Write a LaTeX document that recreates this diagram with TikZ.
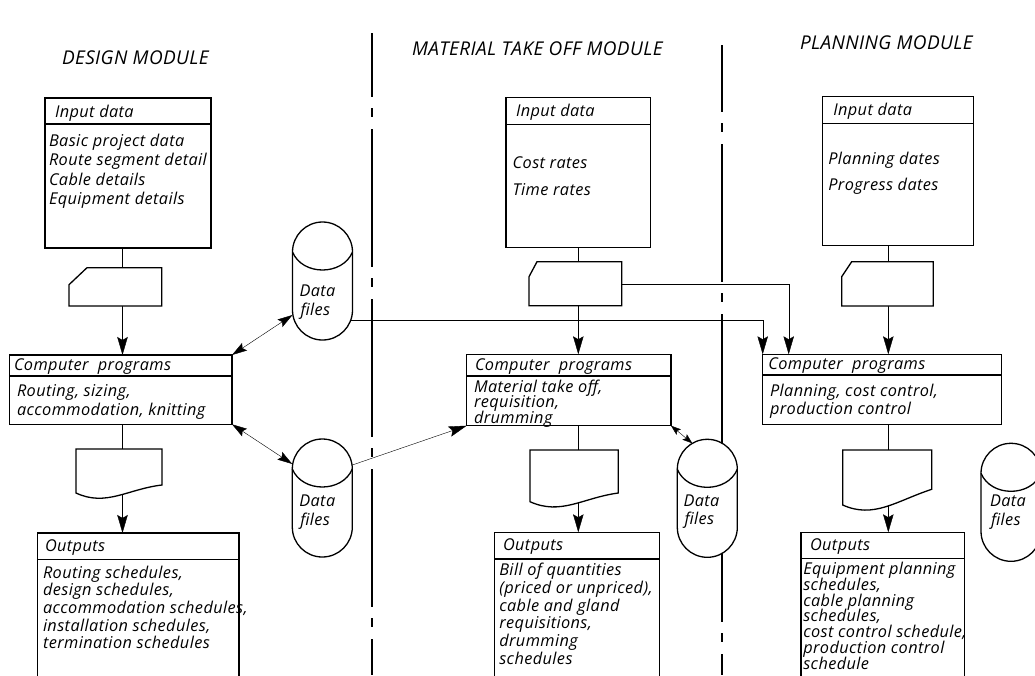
\documentclass[tikz,border=0pt]{standalone}
\usepackage{fontspec}
\setmainfont{Open Sans}
\newfontfamily\lettering{Open Sans}[LetterSpace=2.5]
\newfontfamily\headlettering{Open Sans}[LetterSpace=2]
\usetikzlibrary{arrows.meta,calc,backgrounds}

\tikzset{
  box/.style={draw, fill=white, rectangle, inner sep=0pt, outer sep=0pt, anchor=north west},
  frame/.style={draw=none, rectangle, inner sep=0pt, outer sep=0pt, anchor=north west},
  txt/.style={inner sep=0pt, outer sep=0pt, anchor=base west,
    font=\lettering\itshape\fontsize{16.3}{19}\selectfont},
  head/.style={inner sep=0pt, outer sep=0pt, anchor=base west,
    font=\headlettering\itshape\fontsize{19}{22}\selectfont},
  flow/.style={-{Stealth[length=18pt,width=10.5pt,inset=3pt]}},
  both/.style={{Stealth[length=15pt,width=9pt,inset=2.5pt]}-{Stealth[length=15pt,width=9pt,inset=2.5pt]}},
  shortboth/.style={{Stealth[length=10pt,width=7pt,inset=2pt]}-{Stealth[length=10pt,width=7pt,inset=2pt]}},
  divider/.style={line width=1.8pt, dash pattern=on 138pt off 11pt on 9pt off 12pt},
}

% header rule inside a box, #2 below its top edge
\newcommand\hdrule[2]{\draw ($(#1.north west)+(0,-#2)$) -- ($(#1.north east)+(0,-#2)$);}
% punched card: name, x, y, width, height, cut width, cut height
\newcommand\card[7]{%
  \node[frame, minimum width=#4pt, minimum height=#5pt] (#1) at (#2,#3) {};
  \draw[fill=white] ($(#1.north west)+(0,-#7)$) -- ($(#1.north west)+(#6,0)$)
    -- (#1.north east) -- (#1.south east) -- (#1.south west) -- cycle;}
% printed document: name, x, y, width, height, rise of right end
\newcommand\docsheet[6]{%
  \node[frame, minimum width=#4pt, minimum height=#5pt] (#1) at (#2,#3) {};
  \draw[fill=white] (#1.south west) -- (#1.north west) -- (#1.north east)
    -- ($(#1.south east)+(0,#6)$)
    .. controls ($(#1.south west)+(0.6*#4,4)$) and ($(#1.south west)+(0.35*#4,-14)$)
    .. (#1.south west) -- cycle;}
% data file drum: name, x, y (top left)
\newcommand\datafile[3]{%
  \node[frame, minimum width=60pt, minimum height=118pt] (#1) at (#2,#3) {};
  \draw[fill=white] ($(#1.north west)+(0,-30)$) arc[start angle=180, end angle=0, radius=30pt]
    -- ($(#1.south east)+(0,30)$) arc[start angle=0, end angle=-180, radius=30pt] -- cycle;
  \draw ($(#1.north west)+(0,-30)$) .. controls +(10,-24) and +(-10,-24) .. ($(#1.north east)+(0,-30)$);}

\begin{document}
\begin{tikzpicture}[x=1pt, y=1pt, line width=1.3pt]
\useasboundingbox (0,0) rectangle (1035,-675);
\clip (0,0) rectangle (1035,-675);

\coordinate (dax) at (122.5,0);
\coordinate (max) at (578.3,0);
\coordinate (pax) at (888.3,0);

% ---------- module titles
\node[head] (t-design) at (62,-64) {DESIGN MODULE};
\node[head] (t-mto) at (412,-55) {MATERIAL TAKE OFF MODULE};
\node[head] (t-plan) at (800,-49) {PLANNING MODULE};

% ---------- design module
\node[box, minimum width=166pt, minimum height=150pt] (din) at (45,-98) {};
\hdrule{din}{26}
\node[txt] (din-h) at (55,-117) {Input data};
\foreach \s [count=\k] in {Basic project data, Route segment detail, Cable details, Equipment details}
  \node[txt] (din-t\k) at (49,{-146-19.5*(\k-1)}) {\s};

\card{dcard}{69}{-267.7}{92.7}{38.3}{18}{17}

\node[box, minimum width=222.7pt, minimum height=69.3pt] (dcp) at (9.3,-355) {};
\hdrule{dcp}{21}
\node[txt] (dcp-h) at (14,-370) {Computer\ \ programs};
\foreach \s [count=\k] in {{Routing, sizing,},{accommodation, knitting}}
  \node[txt] (dcp-t\k) at (17,{-396.5-18.5*(\k-1)}) {\s};

\docsheet{ddoc}{76}{-449}{86}{44}{8}

\node[box, minimum width=201.3pt, minimum height=160pt] (dout) at (37.7,-533) {};
\hdrule{dout}{26.3}
\node[txt] (dout-h) at (45,-551) {Outputs};
\foreach \s [count=\k] in {{Routing schedules,},{design schedules,},{accommodation schedules,},{installation schedules,},{termination schedules}}
  \node[txt] (dout-t\k) at (43,{-578-17.7*(\k-1)}) {\s};

\datafile{dfa}{292.5}{-222}
\node[txt] (dfa-t1) at (299.5,-296) {Data};
\node[txt] (dfa-t2) at (300.5,-315) {files};
\datafile{dfb}{292.3}{-439}
\node[txt] (dfb-t1) at (299.3,-506.7) {Data};
\node[txt] (dfb-t2) at (300.3,-525.5) {files};

% ---------- material take off module
\node[box, minimum width=144.7pt, minimum height=150pt] (min) at (506,-97.3) {};
\hdrule{min}{27}
\node[txt] (min-h) at (516,-116.7) {Input data};
\foreach \s [count=\k] in {Cost rates, Time rates}
  \node[txt] (min-t\k) at (512.7,{-168.3-26.7*(\k-1)}) {\s};

\card{mcard}{529}{-261.7}{92.7}{44}{8}{15}

\node[box, minimum width=204.3pt, minimum height=71.4pt] (mcp) at (466.7,-354.3) {};
\hdrule{mcp}{21.7}
\node[txt] (mcp-h) at (475,-370) {Computer\ \ programs};
\foreach \s [count=\k] in {{Material take off,},{requisition,},{drumming}}
  \node[txt] (mcp-t\k) at (474,{-392-15.5*(\k-1)}) {\s};

\docsheet{mdoc}{530}{-450}{88.3}{51.7}{8.7}

\node[box, minimum width=165pt, minimum height=160pt] (mout) at (494.3,-532.3) {};
\hdrule{mout}{26.7}
\node[txt] (mout-h) at (503,-550.7) {Outputs};
\foreach \s [count=\k] in {{Bill of quantities},{(priced or unpriced),},{cable and gland},{requisitions,},{drumming},{schedules}}
  \node[txt] (mout-t\k) at (499.3,{-575.7-17.7*(\k-1)}) {\s};

\datafile{dfc}{677.3}{-439.3}
\node[txt] (dfc-t1) at (683.5,-506.7) {Data};
\node[txt] (dfc-t2) at (684.5,-524.8) {files};

% ---------- planning module
\node[box, minimum width=151pt, minimum height=149pt] (pin) at (822.3,-96.7) {};
\hdrule{pin}{26.6}
\node[txt] (pin-h) at (833.3,-115.7) {Input data};
\foreach \s [count=\k] in {Planning dates, Progress dates}
  \node[txt] (pin-t\k) at (828.3,{-164-26*(\k-1)}) {\s};

\card{pcard}{841.7}{-261.7}{91.6}{44.3}{10}{15}

\node[box, minimum width=239pt, minimum height=70pt] (pcp) at (762.7,-354.3) {};
\hdrule{pcp}{20.7}
\node[txt] (pcp-h) at (768.3,-369.3) {Computer\ \ programs};
\foreach \s [count=\k] in {{Planning, cost control,},{production control}}
  \node[txt] (pcp-t\k) at (770,{-396.7-17.6*(\k-1)}) {\s};

\docsheet{pdoc}{842.7}{-450}{89}{55}{15.7}

\node[box, minimum width=163.3pt, minimum height=160pt] (pout) at (801,-532.3) {};
\hdrule{pout}{26}
\node[txt] (pout-h) at (810,-550) {Outputs};
\foreach \s [count=\k] in {{Equipment planning},{schedules,},{cable planning},{schedules,},{cost control schedule,},{production control},{schedule}}
  \node[txt] (pout-t\k) at (803.3,{-574.5-15.8*(\k-1)}) {\s};

\datafile{dfd}{981}{-443.3}
\node[txt] (dfd-t1) at (990,-506.7) {Data};
\node[txt] (dfd-t2) at (991,-525) {files};

% ---------- module borders and connectors, under the symbols
\begin{scope}[on background layer]
  \draw[divider, dash phase=74pt] (372,-33) -- (372,-675);
  \draw[divider, dash phase=71pt] (722,-45) -- (722,-675);

  % design flow
  \draw (din.south -| dax) -- (dcard.north -| dax);
  \draw[flow] (dcard.south -| dax) -- (dcp.north -| dax);
  \draw (dcp.south -| dax) -- (ddoc.north -| dax);
  \draw[flow] (ddoc.center -| dax) -- (dout.north -| dax);
  \draw[both] (dcp.north east) -- ($(dfa.south west)+(0,25)$);
  \draw[both] (dcp.south east) -- ($(dfb.north west)+(0,-25)$);
  \draw[flow] ($(dfb.north east)+(0,-26)$) -- (mcp.south west);
  \draw[flow] ($(dfa.center)+(0,-39)$) -| (pcp.north west);

  % material take off flow
  \draw (min.south -| max) -- (mcard.north -| max);
  \draw[flow] (mcard.south -| max) -- (mcp.north -| max);
  \draw (mcp.south -| max) -- (mdoc.north -| max);
  \draw[flow] (mdoc.center -| max) -- (mout.north -| max);
  \draw[flow] (mcard.center) -| ($(pcp.north west)+(26,0)$);
  \draw[shortboth] (mcp.south east) -- ($(dfc.north)+(0,-30)+(120:30)$);

  % planning flow
  \draw (pin.south -| pax) -- (pcard.north -| pax);
  \draw[flow] (pcard.south -| pax) -- (pcp.north -| pax);
  \draw (pcp.south -| pax) -- (pdoc.north -| pax);
  \draw[flow] (pdoc.center -| pax) -- (pout.north -| pax);
\end{scope}
\end{tikzpicture}
\end{document}
